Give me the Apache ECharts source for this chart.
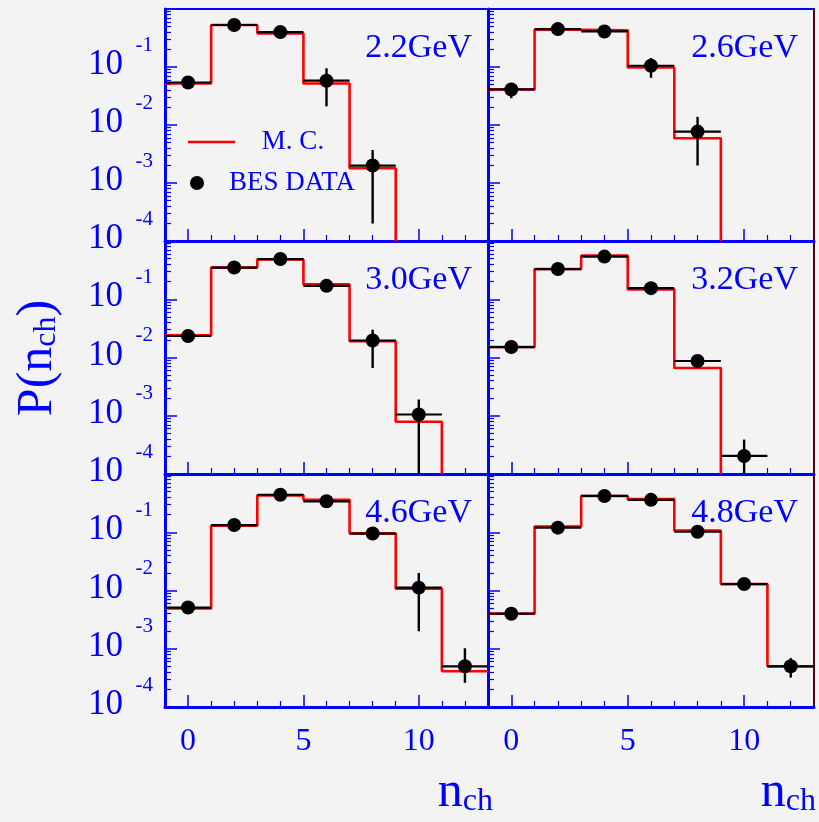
<!DOCTYPE html>
<html><head><meta charset="utf-8">
<script src="https://cdn.jsdelivr.net/npm/echarts@6/dist/echarts.min.js"></script>
<style>html,body{margin:0;padding:0;background:#f3f3f3}#c{width:819px;height:822px}</style>
</head><body><div id="c"></div><script>
// ---------------- data ----------------
const nch = [0, 2, 4, 6, 8, 10, 12];
const panelLabels = ['2.2GeV', '2.6GeV', '3.0GeV', '3.2GeV', '4.6GeV', '4.8GeV'];

const data_22 = [0.054, 0.53, 0.40, 0.058, 0.0020, null, null];
const lo_22   = [0.050, 0.51, 0.385, 0.021, 0.0002, null, null];
const hi_22   = [0.058, 0.55, 0.415, 0.095, 0.0037, null, null];
const mc_22   = [0.052, 0.53, 0.38, 0.052, 0.0018, null, null];

const data_26 = [0.041, 0.45, 0.41, 0.105, 0.0077, null, null];
const lo_26   = [0.029, 0.43, 0.39, 0.065, 0.0020, null, null];
const hi_26   = [0.049, 0.47, 0.43, 0.143, 0.0138, null, null];
const mc_26   = [0.041, 0.44, 0.43, 0.098, 0.0059, null, null];

const data_30 = [0.0234, 0.35, 0.49, 0.17, 0.0196, 0.00105, null];
const lo_30   = [0.022, 0.335, 0.47, 0.16, 0.0066, 0.00005, null];
const hi_30   = [0.025, 0.365, 0.51, 0.18, 0.030, 0.0019, null];
const mc_30   = [0.024, 0.35, 0.48, 0.18, 0.019, 0.00079, null];

const data_32 = [0.0151, 0.33, 0.54, 0.155, 0.0087, 0.000204, null];
const lo_32   = [0.014, 0.315, 0.52, 0.148, 0.0080, 0.00005, null];
const hi_32   = [0.0162, 0.345, 0.56, 0.162, 0.0094, 0.00039, null];
const mc_32   = [0.0151, 0.33, 0.56, 0.148, 0.0066, null, null];

const data_46 = [0.0051, 0.133, 0.44, 0.34, 0.095, 0.0112, 0.0005];
const lo_46   = [0.0047, 0.127, 0.42, 0.325, 0.090, 0.0020, 0.00026];
const hi_46   = [0.0055, 0.139, 0.46, 0.355, 0.100, 0.020, 0.00102];
const mc_46   = [0.0049, 0.129, 0.43, 0.36, 0.096, 0.0107, 0.00041];

const data_48 = [0.0040, 0.12, 0.42, 0.36, 0.102, 0.0129, 0.0005];
const lo_48   = [0.0037, 0.115, 0.40, 0.345, 0.097, 0.0122, 0.00032];
const hi_48   = [0.0043, 0.125, 0.44, 0.375, 0.107, 0.0136, 0.00069];
const mc_48   = [0.0040, 0.125, 0.42, 0.37, 0.107, 0.0129, 0.0005];

const xMajorTicks = [0, 5, 10];
const xMinorTicks = [1, 2, 3, 4, 6, 7, 8, 9, 11, 12];
const yDecades = [1e-4, 1e-3, 1e-2, 1e-1];
const yMinorMult = [2, 3, 4, 5, 6, 7, 8, 9];
const binHalfWidth = 1;
const xMin = -1, xMax = 13, yMin = 1e-4, yMax = 1;

// ---------------- layout / style ----------------
const BLUE = '#0000ff';
const SERIF = '"Liberation Serif", "DejaVu Serif", serif';
const cols = [{left: 165, width: 323}, {left: 488, width: 326}];
const rows = [{top: 9, height: 232}, {top: 241, height: 233}, {top: 474, height: 233}];

const panels = [
  {label: panelLabels[0], data: data_22, lo: lo_22, hi: hi_22, mc: mc_22},
  {label: panelLabels[1], data: data_26, lo: lo_26, hi: hi_26, mc: mc_26},
  {label: panelLabels[2], data: data_30, lo: lo_30, hi: hi_30, mc: mc_30},
  {label: panelLabels[3], data: data_32, lo: lo_32, hi: hi_32, mc: mc_32},
  {label: panelLabels[4], data: data_46, lo: lo_46, hi: hi_46, mc: mc_46},
  {label: panelLabels[5], data: data_48, lo: lo_48, hi: hi_48, mc: mc_48}
];

const yMinorTicks = [];
yDecades.forEach(d => yMinorMult.forEach(m => yMinorTicks.push(d * m)));

function stepPoints(mc) {
  const pts = [];
  for (let i = 0; i < nch.length; i++) {
    const left = nch[i] - binHalfWidth;
    if (mc[i] == null) { pts.push([left, yMin]); break; }
    pts.push([left, mc[i]]);
    if (i === nch.length - 1) pts.push([nch[i] + binHalfWidth, mc[i]]);
  }
  return pts;
}

const grid = [], xAxis = [], yAxis = [], series = [], graphic = [];

panels.forEach((p, i) => {
  const r = Math.floor(i / 2), c = i % 2;
  grid.push({left: cols[c].left, width: cols[c].width, top: rows[r].top, height: rows[r].height,
    show: true, borderColor: BLUE, borderWidth: 2, backgroundColor: 'transparent', outerBoundsMode: 'none'});
  const xMajor = xAxis.length;
  xAxis.push({type: 'value', gridIndex: i, min: xMin, max: xMax, position: 'bottom',
    axisLine: {onZero: false, lineStyle: {color: BLUE, width: 3}},
    axisTick: {inside: true, length: 12, customValues: xMajorTicks, lineStyle: {color: BLUE, width: 1.5}},
    axisLabel: {show: r === 2, customValues: xMajorTicks, margin: 19, color: BLUE, fontFamily: SERIF, fontSize: 32},
    splitLine: {show: false}});
  xAxis.push({type: 'value', gridIndex: i, min: xMin, max: xMax, position: 'bottom',
    axisLine: {show: false, onZero: false},
    axisTick: {inside: true, length: 6, customValues: xMinorTicks, lineStyle: {color: BLUE, width: 1.2}},
    axisLabel: {show: false}, splitLine: {show: false}});
  const yMajor = yAxis.length;
  yAxis.push({type: 'log', logBase: 10, gridIndex: i, min: yMin, max: yMax, position: 'left',
    axisLine: {onZero: false, lineStyle: {color: BLUE, width: 3}},
    axisTick: {inside: true, length: 12, lineStyle: {color: BLUE, width: 1.5}},
    axisLabel: {show: c === 0, margin: 12, showMinLabel: true, showMaxLabel: true, hideOverlap: false,
      formatter: v => { const e = Math.round(Math.log10(v)); return e === 0 ? '' : '{s|' + e + '}\n{b|10}\n{e| }'; },
      rich: {
        s: {fontFamily: SERIF, fontSize: 21, lineHeight: 20, color: BLUE, align: 'right'},
        b: {fontFamily: SERIF, fontSize: 35, lineHeight: 20, color: BLUE, align: 'right', padding: [0, 30, 0, 0]},
        e: {fontSize: 10, lineHeight: 24, align: 'right'}
      }},
    splitLine: {show: false}});
  yAxis.push({type: 'log', logBase: 10, gridIndex: i, min: yMin, max: yMax, position: 'left',
    axisLine: {show: false, onZero: false},
    axisTick: {inside: true, length: 6, customValues: yMinorTicks, lineStyle: {color: BLUE, width: 1.2}},
    axisLabel: {show: false}, splitLine: {show: false}});
  if (c === 1) {
    yAxis.push({type: 'log', logBase: 10, gridIndex: i, min: yMin, max: yMax, position: 'right',
      axisLine: {show: true, onZero: false, lineStyle: {color: '#500010', width: 2}},
      axisTick: {show: false}, axisLabel: {show: false}, splitLine: {show: false}});
  }

  // MC histogram
  series.push({type: 'line', name: 'M. C.', xAxisIndex: xMajor, yAxisIndex: yMajor,
    data: stepPoints(p.mc), step: 'end', showSymbol: false, clip: true, silent: true,
    lineStyle: {color: '#ff0000', width: 2.6}, z: 2, animation: false});

  // data with error bars
  const items = [], pts = [];
  nch.forEach((n, k) => {
    if (p.data[k] == null) return;
    items.push([n, p.data[k], p.lo[k], p.hi[k]]);
    pts.push([n, p.data[k]]);
  });
  series.push({type: 'custom', name: 'BES DATA err', xAxisIndex: xMajor, yAxisIndex: yMajor,
    data: items, encode: {x: 0, y: 1}, clip: true, silent: true, z: 3, animation: false,
    renderItem: (params, api) => {
      const x = api.value(0), y = api.value(1), lo = api.value(2), hi = api.value(3);
      const a = api.coord([x - binHalfWidth, y]), b = api.coord([x + binHalfWidth, y]);
      const d = api.coord([x, lo]), u = api.coord([x, hi]);
      return {type: 'group', children: [
        {type: 'line', shape: {x1: a[0], y1: a[1], x2: b[0], y2: b[1]}, style: {stroke: '#000', lineWidth: 2.2}},
        {type: 'line', shape: {x1: d[0], y1: d[1], x2: u[0], y2: u[1]}, style: {stroke: '#000', lineWidth: 2.4}}
      ]};
    }});
  series.push({type: 'scatter', name: 'BES DATA', xAxisIndex: xMajor, yAxisIndex: yMajor,
    data: pts, symbol: 'circle', symbolSize: 14, itemStyle: {color: '#000', opacity: 1}, z: 4, silent: true, animation: false});

  // panel label
  graphic.push({type: 'text', x: cols[c].left + cols[c].width - 16, y: rows[r].top + 39,
    style: {text: p.label, fontFamily: SERIF, fontSize: 34, fill: BLUE, align: 'right', verticalAlign: 'middle'}});
});

// legend (panel 1)
graphic.push({type: 'line', shape: {x1: 188, y1: 142, x2: 235, y2: 142}, style: {stroke: '#ff0000', lineWidth: 2.6}});
graphic.push({type: 'circle', shape: {cx: 197, cy: 183, r: 7}, style: {fill: '#000'}});
graphic.push({type: 'text', x: 293, y: 142, style: {text: 'M. C.', fontFamily: SERIF, fontSize: 27, fill: BLUE, align: 'center', verticalAlign: 'middle'}});
graphic.push({type: 'text', x: 292, y: 183, style: {text: 'BES DATA', fontFamily: SERIF, fontSize: 27, fill: BLUE, align: 'center', verticalAlign: 'middle'}});

// axis titles
const subRich = {
  m: {fontFamily: SERIF, fontSize: 50, lineHeight: 50, fill: BLUE, color: BLUE, verticalAlign: 'top'},
  s: {fontFamily: SERIF, fontSize: 32, lineHeight: 32, fill: BLUE, color: BLUE, verticalAlign: 'bottom', padding: [38, 0, 0, 0]}
};
graphic.push({type: 'text', x: 38, y: 358, rotation: Math.PI / 2,
  style: {text: '{m|P(n}{s|ch}{m|)}', rich: subRich, align: 'center', verticalAlign: 'middle', fill: BLUE}});
graphic.push({type: 'text', x: 493, y: 793, style: {text: '{m|n}{s|ch}', rich: subRich, align: 'right', verticalAlign: 'middle', fill: BLUE}});
graphic.push({type: 'text', x: 816, y: 793, style: {text: '{m|n}{s|ch}', rich: subRich, align: 'right', verticalAlign: 'middle', fill: BLUE}});

const chart = echarts.init(document.getElementById('c'), null, {renderer: 'canvas'});
chart.setOption({
  backgroundColor: '#f3f3f3',
  animation: false,
  grid, xAxis, yAxis, series, graphic
});
</script></body></html>
